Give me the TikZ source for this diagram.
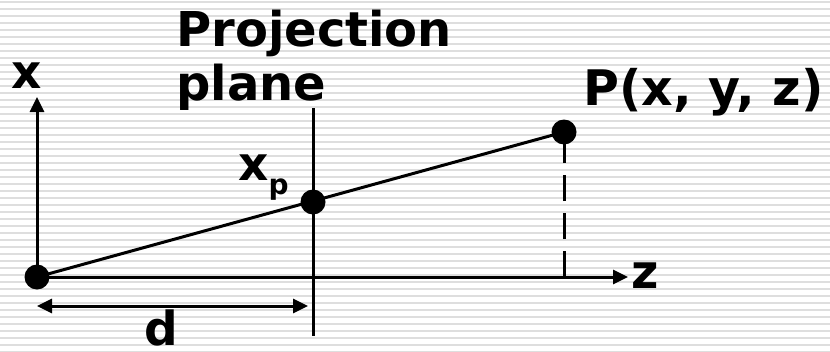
\documentclass[tikz,border=0pt]{standalone}
\usepackage{fontspec}
\setmainfont{DejaVu Sans}
\usetikzlibrary{arrows.meta}
\begin{document}
\begin{tikzpicture}[x=1pt,y=-1pt,
  stripe/.style={draw=black!13,line width=2.2pt},
  ln/.style={draw=black,line width=3pt},
  axis/.style={ln,-{Triangle[length=15pt,width=14pt]}},
  dim/.style={ln,{Triangle[length=15pt,width=14pt]}-{Triangle[length=15pt,width=14pt]}},
  dashln/.style={ln,dash pattern=on 26pt off 12pt},
  dot/.style={circle,fill=black,minimum size=25pt,inner sep=0pt},
  lbl/.style={inner sep=0pt,font=\bfseries\fontsize{47}{54}\selectfont}]
\useasboundingbox[fill=white] (0,0) rectangle (830,351);
\foreach \y in {0,7,...,350} \draw[stripe] (0,\y+2) -- (830,\y+2);
% coordinates
\coordinate (xtip) at (37,97);
\coordinate (ztip) at (628,277);
\coordinate (ptop) at (313,108);
\coordinate (pbot) at (313,336);
\coordinate (foot) at (564,277);
\coordinate (dl) at (37,306);
\coordinate (dr) at (308,306);
\coordinate (Oc) at (37,277);
\coordinate (Pc) at (564,132);
\coordinate (Xc) at (313,202);
% lines
\draw[axis] (Oc) -- (xtip);
\draw[axis] (Oc) -- (ztip);
\draw[ln] (ptop) -- (pbot);
\draw[ln] (Oc) -- (Pc);
\draw[dashln] (foot) -- (Pc);
\draw[dim] (dl) -- (dr);
% dots
\node[dot] (O) at (Oc) {};
\node[dot] (XP) at (Xc) {};
\node[dot] (P) at (Pc) {};
% labels
\node[lbl,anchor=base west,font=\bfseries\fontsize{48}{54}\selectfont] (proj) at (176,46) {Projection};
\node[lbl,anchor=base west,font=\bfseries\fontsize{48}{54}\selectfont] (plane) at (176,100) {plane};
\node[lbl,anchor=base west,font=\bfseries\fontsize{49}{54}\selectfont] (plbl) at (583,105) {P(x, y, z)};
\node[lbl,anchor=base] (xlbl) at (27,88) {x};
\node[lbl,anchor=base] (zlbl) at (645,288) {z};
\node[lbl,anchor=base] (dlbl) at (161,345) {d};
\node[lbl,anchor=base west] (xplbl) at (238,180) {x\raisebox{-14pt}{\fontsize{28}{28}\selectfont p}};
\end{tikzpicture}
\end{document}
